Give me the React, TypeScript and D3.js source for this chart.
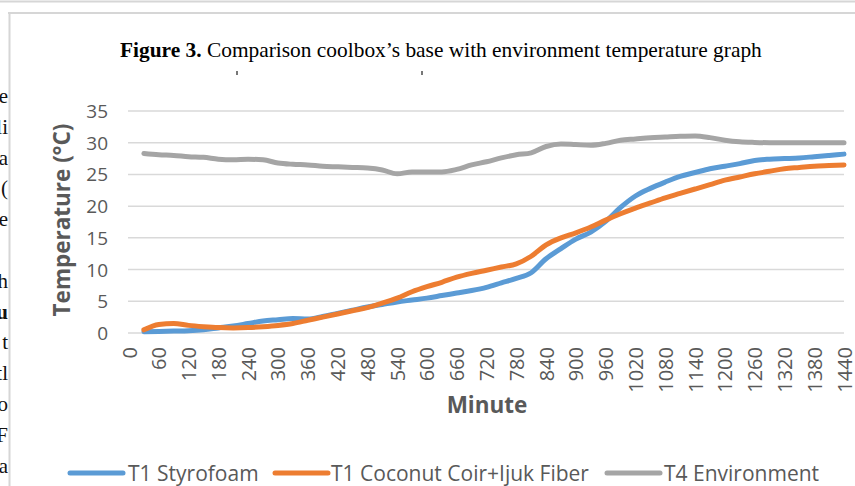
import * as d3 from "d3";

// minutes, one reading every 30 min
const minutes = d3.range(30, 1441, 30);

const styrofoam = [
  0.2, 0.25, 0.3, 0.35, 0.5, 0.8, 1.1, 1.5, 1.9, 2.1, 2.3, 2.2, 2.6, 3.1, 3.6, 4.1,
  4.5, 4.9, 5.2, 5.5, 5.9, 6.3, 6.7, 7.2, 7.9, 8.6, 9.5, 11.7, 13.3, 14.8, 15.9, 17.6,
  19.8, 21.6, 22.8, 23.8, 24.7, 25.3, 25.9, 26.3, 26.7, 27.2, 27.4, 27.5, 27.6, 27.8, 28.0, 28.2,
];

const coconut = [
  0.5, 1.35, 1.5, 1.2, 1.0, 0.85, 0.8, 0.85, 1.0, 1.2, 1.5, 2.0, 2.5, 3.0, 3.5, 4.0,
  4.7, 5.5, 6.5, 7.3, 8.0, 8.8, 9.4, 9.9, 10.4, 10.9, 12.1, 13.9, 15.0, 15.8, 16.7, 17.8,
  18.8, 19.7, 20.5, 21.3, 22.0, 22.7, 23.4, 24.1, 24.6, 25.1, 25.5, 25.9, 26.1, 26.3, 26.4, 26.5,
];

const environment = [
  28.3, 28.1, 28.0, 27.8, 27.7, 27.4, 27.3, 27.4, 27.3, 26.8, 26.6, 26.5, 26.3, 26.2, 26.1, 26.0,
  25.7, 25.1, 25.4, 25.4, 25.4, 25.8, 26.5, 27.0, 27.6, 28.1, 28.4, 29.4, 29.8, 29.7, 29.6, 29.9,
  30.4, 30.6, 30.8, 30.9, 31.0, 31.05, 30.8, 30.4, 30.15, 30.05, 30.0, 30.0, 30.0, 30.0, 30.0, 30.0,
];

const xTicks = d3.range(0, 1441, 60);
const yTicks = [0, 5, 10, 15, 20, 25, 30, 35];

const seriesNames = ["T1 Styrofoam", "T1 Coconut Coir+Ijuk Fiber", "T4 Environment"];
const seriesColors = ["#5B9BD5", "#ED7D31", "#A5A5A5"];
const seriesValues = [styrofoam, coconut, environment];

// cut-off text from the page beside the figure
const marginText = ["e", "li", "a", "(", "e", "", "th", "u", "t", "tl", "o", "F", "a"];

const W = 855;
const H = 486;
const FONT = "'Open Sans', 'Noto Sans', sans-serif";
const SERIF = "'Liberation Serif', 'Times New Roman', serif";
const GREY_TEXT = "#595959";

export default function App() {
  const x = d3.scaleLinear().domain([0, 1440]).range([129, 844]);
  const y = d3.scaleLinear().domain([0, 35]).range([333, 111]);

  const line = d3
    .line<number>()
    .x((_, i) => x(minutes[i]))
    .y((d) => y(d))
    .curve(d3.curveMonotoneX);

  // legend placement
  const legendItems = [
    { x0: 70, x1: 123, tx: 128 },
    { x0: 275, x1: 328, tx: 331 },
    { x0: 607, x1: 660, tx: 664 },
  ];

  return (
    <svg
      width={W}
      height={H}
      style={{ position: "absolute", left: 0, top: 0, display: "block", background: "#fff" }}
    >
      {/* page frame */}
      <line x1={0} x2={W} y1={1.5} y2={1.5} stroke="#D6D6D6" strokeWidth={2} />
      <line x1={8} x2={W} y1={13} y2={13} stroke="#D6D6D6" strokeWidth={2} />
      <line x1={9.5} x2={9.5} y1={12} y2={H} stroke="#D6D6D6" strokeWidth={2} />

      {marginText.map((t, i) => (
        <text
          key={i}
          x={8}
          y={103 + i * 30.8}
          textAnchor="end"
          fontFamily={SERIF}
          fontSize={21}
          fontWeight={t === "u" ? "bold" : "normal"}
          fill="#111"
        >
          {t}
        </text>
      ))}

      {/* caption */}
      <text x={120} y={57} fontFamily={SERIF} fontSize={21.4} fill="#000">
        <tspan fontWeight="bold">Figure 3.</tspan>
        <tspan> Comparison coolbox’s base with environment temperature graph</tspan>
      </text>
      <rect x={236} y={71} width={2} height={4} fill="#777" />
      <rect x={421} y={71} width={2} height={4} fill="#777" />

      {/* gridlines */}
      {yTicks.map((t) => (
        <line key={t} x1={128} x2={844} y1={y(t)} y2={y(t)} stroke="#D9D9D9" strokeWidth={1.5} />
      ))}

      {/* y tick labels */}
      {yTicks.map((t) => (
        <text
          key={t}
          x={108}
          y={y(t)}
          textAnchor="end"
          dominantBaseline="central"
          fontFamily={FONT}
          fontSize={19}
          fill={GREY_TEXT}
        >
          {t}
        </text>
      ))}

      {/* x tick labels */}
      {xTicks.map((t) => (
        <text
          key={t}
          transform={`translate(${x(t)},347) rotate(-90)`}
          textAnchor="end"
          dominantBaseline="central"
          fontFamily={FONT}
          fontSize={20}
          fill={GREY_TEXT}
        >
          {t}
        </text>
      ))}

      {/* axis titles */}
      <text
        x={487}
        y={404}
        textAnchor="middle"
        dominantBaseline="central"
        fontFamily={FONT}
        fontSize={22.5}
        fontWeight="bold"
        fill={GREY_TEXT}
      >
        Minute
      </text>
      <text
        transform="translate(61,220) rotate(-90)"
        textAnchor="middle"
        dominantBaseline="central"
        fontFamily={FONT}
        fontSize={22.5}
        fontWeight="bold"
        fill={GREY_TEXT}
      >
        Temperature (°C)
      </text>

      {/* series */}
      {seriesValues.map((vals, i) => (
        <path
          key={seriesNames[i]}
          d={line(vals) || ""}
          fill="none"
          stroke={seriesColors[i]}
          strokeWidth={5}
          strokeLinecap="round"
          strokeLinejoin="round"
        />
      ))}

      {/* legend */}
      {legendItems.map((it, i) => (
        <g key={seriesNames[i]}>
          <line
            x1={it.x0}
            x2={it.x1}
            y1={473}
            y2={473}
            stroke={seriesColors[i]}
            strokeWidth={5}
            strokeLinecap="round"
          />
          <text
            x={it.tx}
            y={473}
            dominantBaseline="central"
            fontFamily={FONT}
            fontSize={21}
            fill={GREY_TEXT}
          >
            {seriesNames[i]}
          </text>
        </g>
      ))}
    </svg>
  );
}
